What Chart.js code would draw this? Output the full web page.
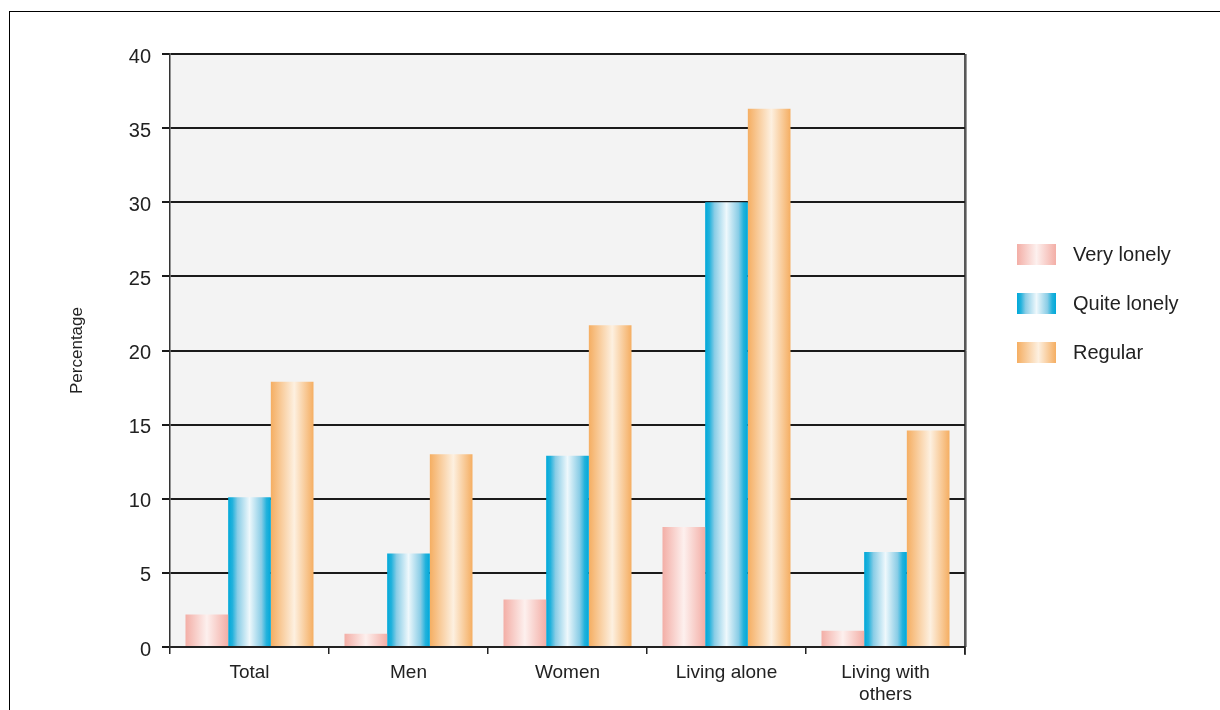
<!DOCTYPE html>
<html>
<head>
<meta charset="utf-8">
<script src="https://cdn.jsdelivr.net/npm/chart.js@4/dist/chart.umd.min.js"></script>
<style>
  html, body { margin: 0; padding: 0; background: #fff; }
  body { width: 1220px; height: 710px; position: relative; overflow: hidden; }
  #frame { position: absolute; left: 9px; top: 11px; width: 1300px; height: 800px; border-top: 1px solid #000; border-left: 1px solid #000; }
  #wrap { position: absolute; left: 0; top: 0; width: 1220px; height: 710px; }
</style>
</head>
<body>
<div id="frame"></div>
<div id="wrap"><canvas id="c" width="1220" height="710"></canvas></div>
<script>
const categories = ['Total', 'Men', 'Women', 'Living alone', ['Living with', 'others']];
const seriesNames = ['Very lonely', 'Quite lonely', 'Regular'];
const veryLonely = [2.2, 0.9, 3.2, 8.1, 1.1];
const quiteLonely = [10.1, 6.3, 12.9, 30.0, 6.4];
const regular = [17.9, 13.0, 21.7, 36.3, 14.6];
const yTicks = [0, 5, 10, 15, 20, 25, 30, 35, 40];

const FONT = "'Liberation Sans', Arial, sans-serif";
const TEXT = '#222';
const CAT_PCT = 0.805;

const palettes = [
  [[0, '#f3aea6'], [0.5, '#fdf0ee'], [1, '#f3aea6']],
  [[0, '#00a8d9'], [0.1, '#22b2dc'], [0.22, '#8acde6'], [0.5, '#eef8fc'], [0.78, '#8acde6'], [0.9, '#22b2dc'], [1, '#00a8d9']],
  [[0, '#f5ae62'], [0.55, '#fdf0e0'], [1, '#f5ae62']]
];

function makeGrad(c, x0, x1, stops) {
  const g = c.createLinearGradient(x0, 0, x1, 0);
  stops.forEach(s => g.addColorStop(s[0], s[1]));
  return g;
}

function barFill(ctx) {
  const chart = ctx.chart;
  const xs = chart.scales.x;
  const pal = palettes[ctx.datasetIndex];
  if (!xs || !chart.chartArea) return pal[0][1];
  const n = categories.length;
  const catW = xs.width / n;
  const bw = catW * CAT_PCT / seriesNames.length;
  const center = xs.getPixelForValue(ctx.dataIndex);
  const x0 = center - catW * CAT_PCT / 2 + ctx.datasetIndex * bw;
  return makeGrad(chart.ctx, x0, x0 + bw, pal);
}

const plotBg = {
  id: 'plotBg',
  beforeDraw(chart) {
    const { ctx, chartArea: a } = chart;
    ctx.save();
    ctx.fillStyle = '#f3f3f3';
    ctx.fillRect(a.left, a.top, a.right - a.left, a.bottom - a.top);
    ctx.restore();
  },
  afterDatasetsDraw(chart) {
    const { ctx, chartArea: a } = chart;
    ctx.save();
    ctx.strokeStyle = '#999';
    ctx.lineWidth = 1;
    ctx.beginPath();
    ctx.moveTo(a.right + 1.5, a.top);
    ctx.lineTo(a.right + 1.5, a.bottom);
    ctx.stroke();
    ctx.strokeStyle = '#222';
    ctx.lineWidth = 1.5;
    ctx.beginPath();
    ctx.moveTo(a.right, a.top);
    ctx.lineTo(a.right, a.bottom + 8);
    ctx.stroke();
    ctx.restore();
  }
};

const customLegend = {
  id: 'customLegend',
  afterDraw(chart) {
    const { ctx } = chart;
    ctx.save();
    chart.data.datasets.forEach((ds, i) => {
      const bx = 1017, by = 244 + i * 49, bw = 39, bh = 21;
      ctx.fillStyle = makeGrad(ctx, bx, bx + bw, palettes[i]);
      ctx.fillRect(bx, by, bw, bh);
      ctx.fillStyle = TEXT;
      ctx.font = '20px ' + FONT;
      ctx.textBaseline = 'middle';
      ctx.textAlign = 'left';
      ctx.fillText(ds.label, 1073, by + bh / 2 + 1);
    });
    ctx.restore();
  }
};

new Chart(document.getElementById('c'), {
  type: 'bar',
  data: {
    labels: categories,
    datasets: [
      { label: seriesNames[0], data: veryLonely },
      { label: seriesNames[1], data: quiteLonely },
      { label: seriesNames[2], data: regular }
    ].map(d => Object.assign(d, {
      backgroundColor: barFill,
      borderWidth: 0,
      categoryPercentage: CAT_PCT,
      barPercentage: 1.0
    }))
  },
  options: {
    responsive: false,
    animation: false,
    devicePixelRatio: 1,
    layout: { padding: { left: 0, top: 54, right: 1220 - 965, bottom: 0 } },
    plugins: { legend: { display: false }, tooltip: { enabled: false } },
    scales: {
      x: {
        afterFit: s => { s.height = 63; },
        grid: { display: true, drawOnChartArea: false, offset: true, color: '#222', lineWidth: 1.5, tickLength: 7 },
        border: { display: true, color: '#222', width: 2 },
        ticks: { color: TEXT, font: { family: FONT, size: 19 }, padding: 7, maxRotation: 0, autoSkip: false }
      },
      y: {
        min: 0, max: 40,
        afterFit: s => { s.width = 170; },
        afterBuildTicks: s => { s.ticks = yTicks.map(v => ({ value: v })); },
        grid: { color: '#1a1a1a', lineWidth: 2, tickLength: 8, drawTicks: true },
        border: { display: true, color: '#333', width: 1.5 },
        ticks: { color: TEXT, font: { family: FONT, size: 20 }, padding: 11, labelOffset: 3 },
        title: { display: true, text: 'Percentage', color: TEXT, font: { family: FONT, size: 17 }, padding: { top: 67, bottom: 0 } }
      }
    }
  },
  plugins: [plotBg, customLegend]
});
</script>
</body>
</html>
